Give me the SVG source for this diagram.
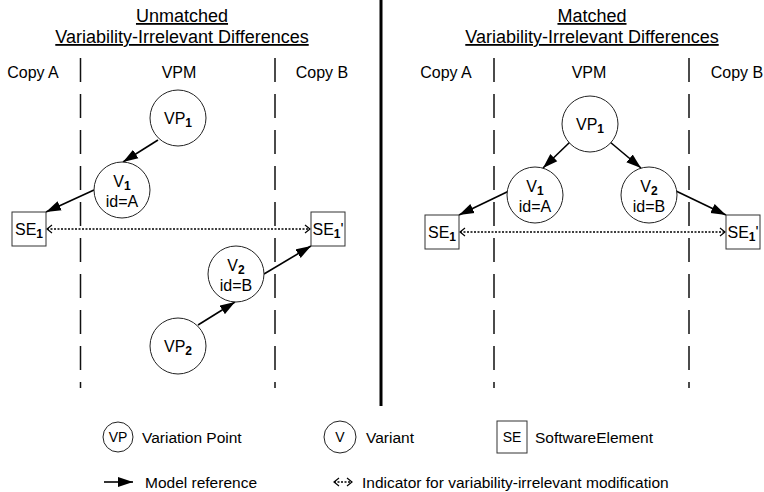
<svg xmlns="http://www.w3.org/2000/svg" width="764" height="492" viewBox="0 0 764 492">
<style>
text{font-family:"Liberation Sans",Arial,sans-serif;fill:#000}
.t{font-size:18px;text-decoration:underline;text-anchor:middle}
.h{font-size:16px;text-anchor:middle}
.n{font-size:16px;text-anchor:middle}
.sub{font-size:12px;font-weight:bold}
.lg{font-size:15.5px}
.c{fill:#fff;stroke:#222;stroke-width:1}
.b{fill:#fff;stroke:#333;stroke-width:1}
.div{stroke:#111;stroke-width:1.5;stroke-dasharray:24 12;fill:none}
.ref{stroke:#000;stroke-width:1.6;fill:none;marker-end:url(#arr)}
.ind{stroke:#000;stroke-width:1.4;stroke-dasharray:2 1.5;fill:none;marker-start:url(#chev);marker-end:url(#chev)}
</style>
<defs>
<marker id="arr" markerUnits="userSpaceOnUse" markerWidth="15" markerHeight="11" viewBox="0 0 15 11" refX="15" refY="5.5" orient="auto"><path d="M0,0.5 L15,5.5 L0,10.5 z" fill="#000"/></marker>
<marker id="chev" markerUnits="userSpaceOnUse" markerWidth="8" markerHeight="10" viewBox="0 0 8 10" refX="6" refY="5" orient="auto-start-reverse"><path d="M1,1 L6,5 L1,9" fill="none" stroke="#000" stroke-width="1.2"/></marker>
</defs>

<g id="separator"><line x1="381" y1="0" x2="381" y2="406" stroke="#000" stroke-width="3"/></g>

<g id="left-panel-labels">
<text class="t" x="182" y="22">Unmatched</text>
<text class="t" x="182" y="43">Variability-Irrelevant Differences</text>
<text class="h" x="33" y="78">Copy A</text>
<text class="h" x="179" y="78">VPM</text>
<text class="h" x="322" y="78">Copy B</text>
<line class="div" x1="80.5" y1="58" x2="80.5" y2="388"/>
<line class="div" x1="275" y1="58" x2="275" y2="388"/>
</g>

<g id="right-panel-labels">
<text class="t" x="592" y="22">Matched</text>
<text class="t" x="592" y="43">Variability-Irrelevant Differences</text>
<text class="h" x="446" y="78">Copy A</text>
<text class="h" x="589" y="78">VPM</text>
<text class="h" x="737" y="78">Copy B</text>
<line class="div" x1="494" y1="58" x2="494" y2="388"/>
<line class="div" x1="689" y1="58" x2="689" y2="388"/>
</g>

<g id="connectors">
<line class="ref" x1="158" y1="140" x2="123" y2="162"/>
<line class="ref" x1="94" y1="190" x2="46" y2="212"/>
<line class="ref" x1="198" y1="325" x2="235" y2="302"/>
<line class="ref" x1="264" y1="274" x2="311" y2="246"/>
<line class="ind" x1="47" y1="229" x2="310" y2="229"/>
<line class="ref" x1="570" y1="142" x2="543" y2="168"/>
<line class="ref" x1="610" y1="142" x2="641" y2="168"/>
<line class="ref" x1="509" y1="191" x2="459" y2="215"/>
<line class="ref" x1="676" y1="191" x2="726" y2="215"/>
<line class="ind" x1="460" y1="232" x2="725" y2="232"/>
</g>

<g id="L-VP1"><circle class="c" cx="178" cy="118" r="28"/><text class="n" x="178" y="124">VP<tspan class="sub" dy="3">1</tspan></text></g>
<g id="L-V1"><circle class="c" cx="122" cy="190" r="28"/><text class="n" x="122" y="187">V<tspan class="sub" dy="3">1</tspan></text><text class="n" x="122" y="207">id=A</text></g>
<g id="L-SE1"><rect class="b" x="12" y="212" width="34" height="34"/><text class="n" x="29" y="235">SE<tspan class="sub" dy="3">1</tspan></text></g>
<g id="L-SE1p"><rect class="b" x="311" y="212" width="34" height="34"/><text class="n" x="328" y="235">SE<tspan class="sub" dy="3">1</tspan><tspan dy="-3">'</tspan></text></g>
<g id="L-V2"><circle class="c" cx="236" cy="274" r="28"/><text class="n" x="236" y="271">V<tspan class="sub" dy="3">2</tspan></text><text class="n" x="236" y="291">id=B</text></g>
<g id="L-VP2"><circle class="c" cx="178" cy="346" r="28"/><text class="n" x="178" y="352">VP<tspan class="sub" dy="3">2</tspan></text></g>

<g id="R-VP1"><circle class="c" cx="590" cy="124" r="28"/><text class="n" x="590" y="130">VP<tspan class="sub" dy="3">1</tspan></text></g>
<g id="R-V1"><circle class="c" cx="535" cy="195" r="28"/><text class="n" x="535" y="192">V<tspan class="sub" dy="3">1</tspan></text><text class="n" x="535" y="212">id=A</text></g>
<g id="R-V2"><circle class="c" cx="649" cy="195" r="28"/><text class="n" x="649" y="192">V<tspan class="sub" dy="3">2</tspan></text><text class="n" x="649" y="212">id=B</text></g>
<g id="R-SE1"><rect class="b" x="425" y="215" width="34" height="34"/><text class="n" x="442" y="238">SE<tspan class="sub" dy="3">1</tspan></text></g>
<g id="R-SE1p"><rect class="b" x="726" y="215" width="34" height="34"/><text class="n" x="743" y="238">SE<tspan class="sub" dy="3">1</tspan><tspan dy="-3">'</tspan></text></g>

<g id="legend">
<circle class="c" cx="118" cy="437" r="15"/><text x="118" y="442" font-size="14" text-anchor="middle">VP</text>
<text class="lg" x="142" y="443">Variation Point</text>
<circle class="c" cx="340" cy="437" r="16"/><text x="340" y="442" font-size="14" text-anchor="middle">V</text>
<text class="lg" x="366" y="443">Variant</text>
<rect class="b" x="497" y="421" width="30" height="32"/><text x="512" y="442" font-size="14" text-anchor="middle">SE</text>
<text class="lg" x="535" y="443">SoftwareElement</text>
<line class="ref" x1="104" y1="482" x2="133" y2="482"/>
<text class="lg" x="145" y="488">Model reference</text>
<line class="ind" x1="334" y1="482" x2="352" y2="482"/>
<text class="lg" x="362" y="488">Indicator for variability-irrelevant modification</text>
</g>
</svg>
